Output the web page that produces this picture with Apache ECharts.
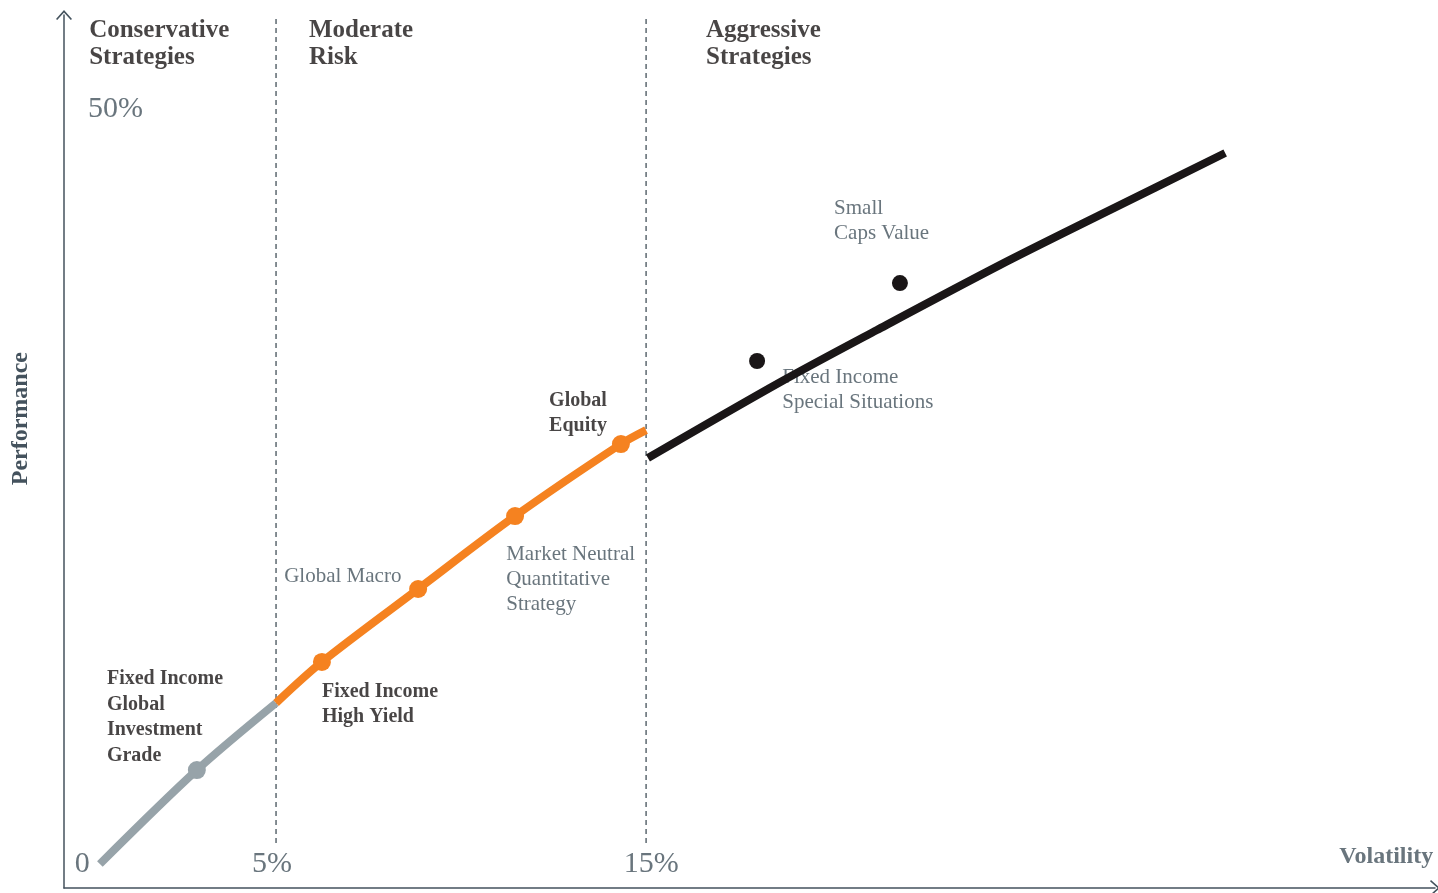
<!DOCTYPE html>
<html>
<head>
<meta charset="utf-8">
<script src="https://cdn.jsdelivr.net/npm/echarts@6/dist/echarts.min.js"></script>
<style>
html,body{margin:0;padding:0;background:#fff;}
#chart{width:1438px;height:893px;}
</style>
</head>
<body>
<div id="chart"></div>
<script>
// ---- data (x = volatility %, y = performance %) ----
const conservativeCurve = [[0.24,-0.13],[2.86,6.09],[5.0,10.53]];
const moderateCurve = [[5.0,10.53],[6.24,13.25],[8.84,18.08],[11.46,22.91],[14.32,27.68],[15.0,28.6]];
const aggressiveCurve = [[15.05,26.75],[18.68,31.85],[21.24,35.23],[24.57,39.54],[27.27,42.85],[30.65,46.95]];
const conservativePoints = [[2.86,6.09]];
const moderatePoints = [[6.24,13.25],[8.84,18.08],[11.46,22.91],[14.32,27.68]];
const aggressivePoints = [[18.0,33.18],[21.86,38.34]];
const zoneBounds = [5, 15];
const zoneTop = 55.96, zoneBottom = 1.26;

const zoneNames = ['Conservative\nStrategies', 'Moderate\nRisk', 'Aggressive\nStrategies'];
const zoneNamePos = [[-0.05,54.14],[5.89,54.14],[16.62,54.14]];

const xTickLabels = ['0', '5%', '15%'];
const xTickPos = [[-0.24,-0.13],[4.89,-0.13],[15.14,-0.13]];
const yTickLabels = ['50%'];
const yTickPos = [[-0.08,49.87]];

const boldNotes = ['Fixed Income\nGlobal\nInvestment\nGrade', 'Fixed Income\nHigh Yield', 'Global\nEquity'];
const boldNotePos = [[0.43,9.57],[6.24,10.43],[12.38,29.70]];
const plainNotes = ['Global Macro', 'Market Neutral\nQuantitative\nStrategy', 'Fixed Income\nSpecial Situations', 'Small\nCaps Value'];
const plainNotePos = [[5.22,18.88],[11.22,18.74],[18.68,31.23],[20.08,42.42]];

const xAxisName = 'Volatility';
const xAxisNamePos = [36.27, 0.36];
const yAxisName = 'Performance';

// ---- styles ----
const FONT = '"Liberation Serif", "DejaVu Serif", serif';
const SLATE = '#44525d';
const INK = '#1a1617';
const GREY = '#97a3a9';
const ORANGE = '#f58220';
const chevron = 'path://M8,0 L16,9 L14.8,10 L8,2.4 L1.2,10 L0,9 Z';

function labelItems(texts, positions, style) {
  return texts.map((t, i) => ({
    value: positions[i],
    label: Object.assign({show: true, formatter: t, position: [0, 0], fontFamily: FONT}, style)
  }));
}

const textData = [].concat(
  labelItems(zoneNames, zoneNamePos, {fontSize: 25, lineHeight: 27, fontWeight: 'bold', color: INK, align: 'left', verticalAlign: 'middle'}),
  labelItems(xTickLabels, xTickPos, {fontSize: 30, color: SLATE, align: 'center', verticalAlign: 'middle'}),
  labelItems(yTickLabels, yTickPos, {fontSize: 30, color: SLATE, align: 'left', verticalAlign: 'middle'}),
  labelItems(boldNotes, boldNotePos, {fontSize: 20, lineHeight: 25.5, fontWeight: 'bold', color: INK, align: 'left', verticalAlign: 'middle'}),
  labelItems(plainNotes, plainNotePos, {fontSize: 21, lineHeight: 25, color: SLATE, align: 'left', verticalAlign: 'middle'}),
  labelItems([xAxisName], [xAxisNamePos], {fontSize: 24, fontWeight: 'bold', color: SLATE, align: 'right', verticalAlign: 'middle'})
);

const chart = echarts.init(document.getElementById('chart'), null, {renderer: 'canvas'});
chart.setOption({
  animation: false,
  backgroundColor: '#fff',
  grid: {left: 64, right: 3, top: 15, bottom: 5, containLabel: false},
  xAxis: {
    type: 'value', min: -0.73, max: 36.32,
    axisLine: {show: true, onZero: false, symbol: ['none', chevron], symbolSize: [16, 10], lineStyle: {color: SLATE, width: 1.5}},
    axisTick: {show: false}, axisLabel: {show: false}, splitLine: {show: false}
  },
  yAxis: {
    type: 'value', min: -1.72, max: 56.09,
    axisLine: {show: true, onZero: false, symbol: ['none', chevron], symbolSize: [16, 10], lineStyle: {color: SLATE, width: 1.5}},
    axisTick: {show: false}, axisLabel: {show: false}, splitLine: {show: false}
  },
  graphic: [{
    type: 'text', left: 9, top: 352, rotation: Math.PI / 2, originX: 0, originY: 0,
    style: {text: yAxisName, font: 'bold 24px ' + FONT, fill: SLATE}
  }],
  series: [
    {type: 'scatter', data: textData, symbolSize: 0, itemStyle: {color: 'transparent'}, clip: false, silent: true, z: 1},
    ...zoneBounds.map(b => ({
      type: 'line', data: [[b, zoneBottom], [b, zoneTop]], showSymbol: false, silent: true, z: 2,
      lineStyle: {color: '#33414b', width: 1.2, type: [5, 4]}
    })),
    {type: 'line', data: conservativeCurve, smooth: 0.3, showSymbol: false, z: 3, lineStyle: {color: GREY, width: 8, cap: 'butt'}},
    {type: 'line', data: moderateCurve, smooth: 0.3, showSymbol: false, z: 3, lineStyle: {color: ORANGE, width: 8, cap: 'butt'}},
    {type: 'line', data: aggressiveCurve, smooth: 0.3, showSymbol: false, z: 3, lineStyle: {color: INK, width: 8, cap: 'butt'}},
    {type: 'scatter', data: conservativePoints, symbolSize: 18, itemStyle: {color: GREY, opacity: 1}, z: 4},
    {type: 'scatter', data: moderatePoints, symbolSize: 18, itemStyle: {color: ORANGE, opacity: 1}, z: 4},
    {type: 'scatter', data: aggressivePoints, symbolSize: 16, itemStyle: {color: INK, opacity: 1}, z: 4}
  ]
});
</script>
</body>
</html>
